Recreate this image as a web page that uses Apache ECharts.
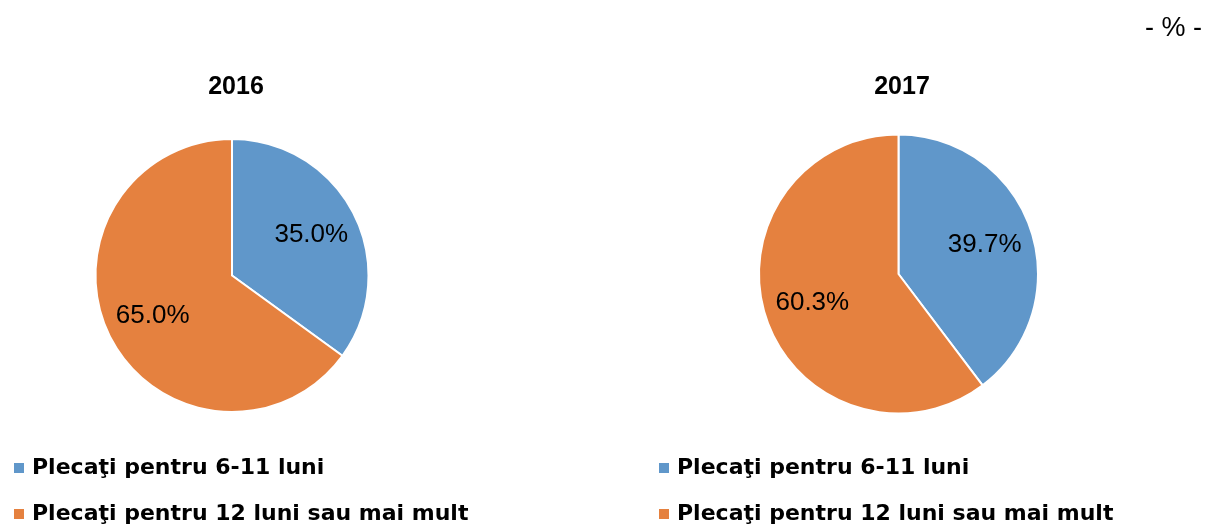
<!DOCTYPE html>
<html>
<head>
<meta charset="utf-8">
<script src="https://cdn.jsdelivr.net/npm/echarts@6/dist/echarts.min.js"></script>
<style>
html,body{margin:0;padding:0;background:#fff;}
#c{width:1206px;height:525px;}
</style>
</head>
<body>
<div id="c"></div>
<script>
const categories = ['Plecaţi pentru 6-11 luni', 'Plecaţi pentru 12 luni sau mai mult'];
const years = ['2016', '2017'];
const values2016 = [35.0, 65.0];
const values2017 = [39.7, 60.3];
const unitLabel = '- % -';
const colors = ['#6097CA', '#E5813F'];

const chart = echarts.init(document.getElementById('c'), null, {renderer: 'canvas'});

const pies = [
  {year: years[0], values: values2016, center: [232, 275.5], r: 136.5, titleX: 236},
  {year: years[1], values: values2017, center: [898.5, 274], r: 139.5, titleX: 902}
];

function mkData(vals) {
  return categories.map((c, i) => ({name: c, value: vals[i], itemStyle: {color: colors[i]}}));
}

const series = [];
pies.forEach(p => {
  series.push({
    type: 'pie',
    center: p.center,
    radius: [0, p.r],
    startAngle: 90,
    clockwise: true,
    data: mkData(p.values),
    itemStyle: {borderColor: '#fff', borderWidth: 2},
    label: {show: false},
    labelLine: {show: false},
    emphasis: {disabled: true},
    animation: false
  });
});
pies.forEach(p => {
  series.push({
    type: 'pie',
    center: p.center,
    radius: [p.r * 0.26, p.r],
    startAngle: 90,
    clockwise: true,
    silent: true,
    data: categories.map((c, i) => ({name: c, value: p.values[i]})),
    itemStyle: {color: 'rgba(0,0,0,0)', borderWidth: 0},
    label: {
      show: true, position: 'inside',
      formatter: d => d.value.toFixed(1) + '%',
      color: '#000', fontSize: 26, fontFamily: 'Arial, Liberation Sans, sans-serif'
    },
    labelLine: {show: false},
    emphasis: {disabled: true},
    animation: false
  });
});

const legendText = {
  color: '#000', fontSize: 22, fontWeight: 'bold',
  fontFamily: 'DejaVu Sans, sans-serif', lineHeight: 24, padding: [0, 0, 0, 2]
};
const legendData = categories.map((c, i) => ({name: c, icon: 'rect', itemStyle: {color: colors[i]}}));

chart.setOption({
  backgroundColor: '#fff',
  animation: false,
  title: [
    ...pies.map(p => ({
      text: p.year, left: p.titleX, top: 75, textAlign: 'center', padding: 0,
      textStyle: {fontSize: 25, fontWeight: 'bold', color: '#000', fontFamily: 'Arial, Liberation Sans, sans-serif'}
    })),
    {
      text: unitLabel, right: 4, top: 15, padding: 0,
      textStyle: {fontSize: 27, fontWeight: 'normal', color: '#000', fontFamily: 'Arial, Liberation Sans, sans-serif'}
    }
  ],
  legend: [
    {orient: 'vertical', left: 12, top: 456, height: 120, itemWidth: 12, itemHeight: 12, itemGap: 22, data: legendData, textStyle: legendText, selectedMode: false, padding: 0},
    {orient: 'vertical', left: 657, top: 456, height: 120, itemWidth: 12, itemHeight: 12, itemGap: 22, data: legendData, textStyle: legendText, selectedMode: false, padding: 0}
  ],
  series: series
});
</script>
</body>
</html>
